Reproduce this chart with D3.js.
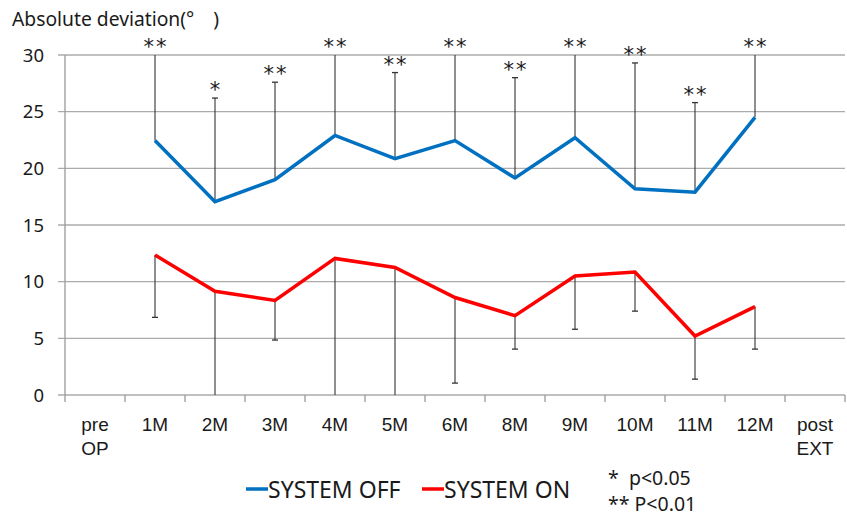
<!DOCTYPE html>
<html>
<head>
<meta charset="utf-8">
<script src="https://cdn.jsdelivr.net/npm/d3@7"></script>
<style>
  body { margin: 0; background: #fff; }
  svg { display: block; }
</style>
</head>
<body>
<script>
// categories along the x axis (7M is missing in the original)
var categories = ["pre OP", "1M", "2M", "3M", "4M", "5M", "6M", "8M", "9M", "10M", "11M", "12M", "post EXT"];

// SYSTEM OFF: mean + upward SD
var offMean = [null, 22.45, 17.05, 19.0, 22.9, 20.85, 22.45, 19.15, 22.7, 18.2, 17.9, 24.5, null];
var offSD   = [null, 8.0, 9.15, 8.6, 7.6, 7.6, 7.8, 8.85, 7.9, 11.1, 7.9, 6.0, null];

// SYSTEM ON: mean + downward SD
var onMean = [null, 12.35, 9.15, 8.35, 12.05, 11.25, 8.6, 7.0, 10.5, 10.85, 5.2, 7.8, null];
var onSD   = [null, 5.5, 9.6, 3.5, 12.5, 11.7, 7.55, 2.95, 4.7, 3.45, 3.8, 3.75, null];

// significance marks above the OFF bars
var signif = ["", "**", "*", "**", "**", "**", "**", "**", "**", "**", "**", "**", ""];

var yTicks = [0, 5, 10, 15, 20, 25, 30];

var width = 847, height = 516;
var margin = {left: 65, right: 2, top: 55, bottom: 120};

var svg = d3.select("body").append("svg")
            .attr("width", width)
            .attr("height", height);

var x = d3.scaleBand()
          .domain(categories)
          .range([margin.left, width - margin.right]);

var y = d3.scaleLinear()
          .domain([0, 30])
          .range([height - margin.bottom - 1, margin.top])
          .clamp(true);

var cx = function(i) { return x(categories[i]) + x.bandwidth() / 2; };

// gridlines
svg.append("g").selectAll("line")
   .data(yTicks)
   .enter().append("line")
   .attr("x1", margin.left - 7)
   .attr("x2", width - margin.right)
   .attr("y1", function(d) { return y(d); })
   .attr("y2", function(d) { return y(d); })
   .attr("stroke", "#ababab")
   .attr("stroke-width", 1.3);

// y axis line
svg.append("line")
   .attr("x1", margin.left).attr("x2", margin.left)
   .attr("y1", y(30)).attr("y2", y(0))
   .attr("stroke", "#9a9a9a").attr("stroke-width", 1.3);

// x axis ticks at band edges
var edges = categories.map(function(c) { return x(c); }).concat([x.range()[1]]);
svg.append("g").selectAll("line")
   .data(edges)
   .enter().append("line")
   .attr("x1", function(d) { return d; })
   .attr("x2", function(d) { return d; })
   .attr("y1", y(0))
   .attr("y2", y(0) + 7)
   .attr("stroke", "#9a9a9a")
   .attr("stroke-width", 1.3);

// y labels
svg.append("g").selectAll("text")
   .data(yTicks)
   .enter().append("text")
   .attr("x", 44)
   .attr("y", function(d) { return y(d) + 6.5; })
   .attr("text-anchor", "end")
   .attr("font-family", "Noto Sans")
   .attr("font-size", 18.5)
   .attr("fill", "#1a1a1a")
   .text(function(d) { return d; });

// x labels
var xl = svg.append("g").selectAll("text")
   .data(categories)
   .enter().append("text")
   .attr("text-anchor", "middle")
   .attr("font-family", "Liberation Sans")
   .attr("font-size", 19)
   .attr("fill", "#1a1a1a");
xl.each(function(d) {
  var t = d3.select(this);
  d.split(" ").forEach(function(w, k) {
    t.append("tspan")
     .attr("x", x(d) + x.bandwidth() / 2)
     .attr("y", 431 + k * 24)
     .text(w);
  });
});

// title
svg.append("text")
   .attr("x", 12).attr("y", 26)
   .attr("font-family", "Noto Sans")
   .attr("font-size", 19.3)
   .attr("fill", "#1a1a1a")
   .text("Absolute deviation(°\u3000)");

// error bars
function errorBars(mean, sd, dir) {
  var g = svg.append("g");
  mean.forEach(function(m, i) {
    if (m == null) return;
    var end = m + dir * sd[i];
    g.append("line")
     .attr("x1", cx(i)).attr("x2", cx(i))
     .attr("y1", y(m)).attr("y2", y(end))
     .attr("stroke", "#333").attr("stroke-width", 1.1);
    if (end > 0 && end < 30) {
      g.append("line")
       .attr("x1", cx(i) - 3).attr("x2", cx(i) + 3)
       .attr("y1", y(end)).attr("y2", y(end))
       .attr("stroke", "#333").attr("stroke-width", 1.3);
    }
  });
}
errorBars(offMean, offSD, 1);
errorBars(onMean, onSD, -1);

// significance stars
svg.append("g").selectAll("text")
   .data(signif)
   .enter().append("text")
   .attr("x", function(d, i) { return cx(i) + 1; })
   .attr("y", function(d, i) { return offMean[i] == null ? 0 : y(offMean[i] + offSD[i]) - 1; })
   .attr("text-anchor", "middle")
   .attr("font-family", "DejaVu Sans")
   .attr("font-size", 21)
   .attr("letter-spacing", 2)
   .attr("fill", "#1a1a1a")
   .text(function(d) { return d; });

// lines
var line = d3.line()
             .defined(function(d) { return d != null; })
             .x(function(d, i) { return cx(i); })
             .y(function(d) { return y(d); });

svg.append("path").attr("d", line(offMean))
   .attr("fill", "none").attr("stroke", "#0070C0").attr("stroke-width", 3.5);
svg.append("path").attr("d", line(onMean))
   .attr("fill", "none").attr("stroke", "#FF0000").attr("stroke-width", 3.5);

// legend
var legend = [{name: "SYSTEM OFF", color: "#0070C0", x: 246},
              {name: "SYSTEM ON", color: "#FF0000", x: 422}];
legend.forEach(function(l) {
  svg.append("line")
     .attr("x1", l.x).attr("x2", l.x + 22)
     .attr("y1", 489).attr("y2", 489)
     .attr("stroke", l.color).attr("stroke-width", 3.5);
  svg.append("text")
     .attr("x", l.x + 22).attr("y", 497.5)
     .attr("font-family", "Noto Sans")
     .attr("font-size", 23)
     .attr("fill", "#1a1a1a")
     .text(l.name);
});

var notes = ["*\u00a0\u00a0p<0.05", "** P<0.01"];
svg.append("g").selectAll("text")
   .data(notes)
   .enter().append("text")
   .attr("x", 608)
   .attr("y", function(d, i) { return 485 + i * 26; })
   .attr("font-family", "Noto Sans")
   .attr("font-size", 19.5)
   .attr("fill", "#1a1a1a")
   .text(function(d) { return d; });
</script>
</body>
</html>
